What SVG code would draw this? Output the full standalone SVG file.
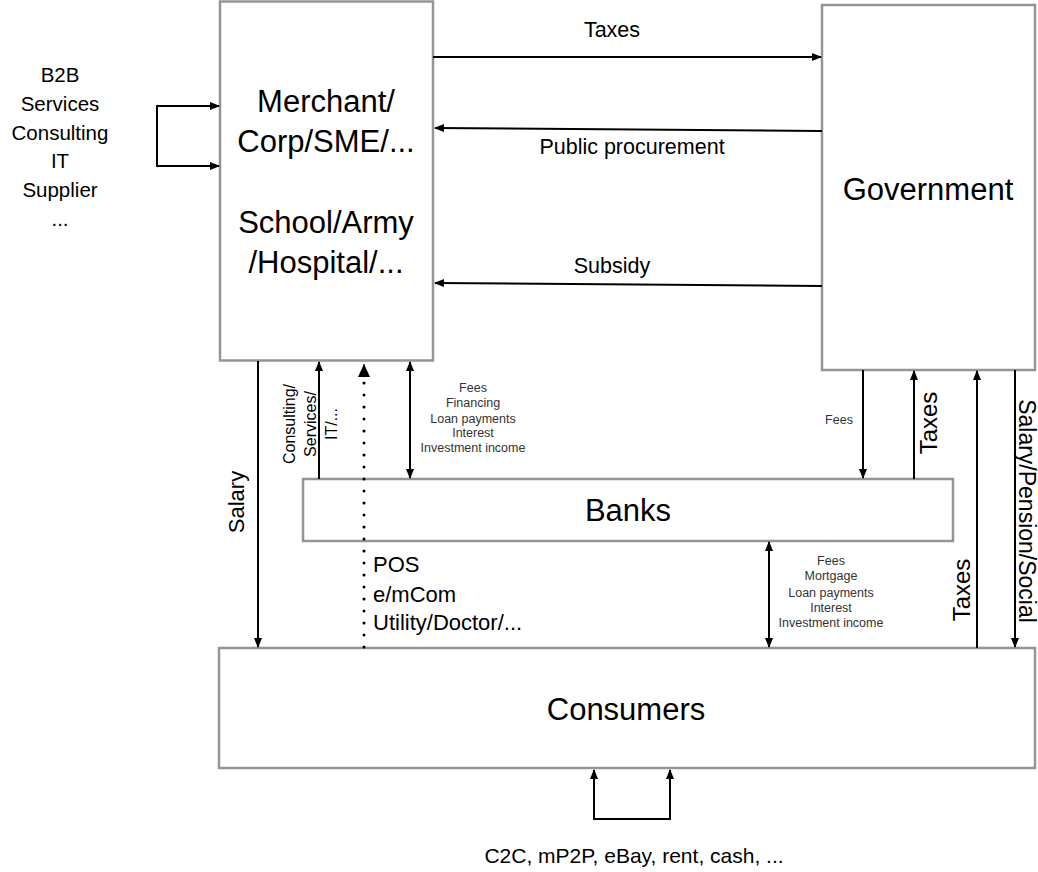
<svg xmlns="http://www.w3.org/2000/svg" width="1038" height="872" viewBox="0 0 1038 872">
  <style>
    text { font-family: "Liberation Sans", Arial, sans-serif; fill: #000; }
    .box { fill: #fff; stroke: #959595; stroke-width: 2.5; }
    .big { font-size: 31px; text-anchor: middle; }
    .mid { font-size: 21.5px; text-anchor: middle; }
    .side { font-size: 20.5px; text-anchor: middle; }
    .small { font-size: 12.5px; text-anchor: middle; fill: #333; }
    .rot { font-size: 24px; text-anchor: middle; }
    .con { fill: none; stroke: #000; stroke-width: 2; }
    .dot { fill: none; stroke: #000; stroke-width: 3; stroke-linecap: round; stroke-dasharray: 0 12; }
  </style>
  <defs>
    <marker id="ah" markerUnits="userSpaceOnUse" markerWidth="10" markerHeight="8" refX="9" refY="4" orient="auto-start-reverse">
      <path d="M0,0 L10,4 L0,8 z" fill="#000"/>
    </marker>
    <marker id="ahBig" markerUnits="userSpaceOnUse" markerWidth="14" markerHeight="12" refX="13" refY="6" orient="auto">
      <path d="M0,0 L13,6 L0,12 z" fill="#000"/>
    </marker>
  </defs>

  <rect width="1038" height="872" fill="#fff"/>

  <g id="merchant">
    <rect class="box" x="220" y="1.5" width="213" height="359"/>
    <text class="big" x="326" y="112">Merchant/</text>
    <text class="big" x="326" y="152">Corp/SME/...</text>
    <text class="big" x="326" y="233">School/Army</text>
    <text class="big" x="326" y="273">/Hospital/...</text>
  </g>

  <g id="government">
    <rect class="box" x="822" y="5" width="213" height="365"/>
    <text class="big" x="928" y="200">Government</text>
  </g>

  <g id="banks">
    <rect class="box" x="303" y="479" width="650" height="62"/>
    <text class="big" x="628" y="521">Banks</text>
  </g>

  <g id="consumers">
    <rect class="box" x="219" y="648" width="816" height="120"/>
    <text class="big" x="626" y="720">Consumers</text>
  </g>

  <g id="b2b-label">
    <text class="side" x="60" y="82">B2B</text>
    <text class="side" x="60" y="111">Services</text>
    <text class="side" x="60" y="140">Consulting</text>
    <text class="side" x="60" y="168">IT</text>
    <text class="side" x="60" y="197">Supplier</text>
    <text class="side" x="60" y="226">...</text>
  </g>

  <g id="connectors">
    <line class="con" x1="433" y1="57" x2="821" y2="57" marker-end="url(#ah)"/>
    <line class="con" x1="822" y1="131" x2="435" y2="128" marker-end="url(#ah)"/>
    <line class="con" x1="822" y1="286" x2="435" y2="283" marker-end="url(#ah)"/>
    <path class="con" d="M219,106 H157 V166 H219" marker-start="url(#ah)" marker-end="url(#ah)"/>
    <line class="con" x1="258" y1="361" x2="258" y2="647" marker-end="url(#ah)"/>
    <line class="con" x1="319" y1="479" x2="319" y2="362" marker-end="url(#ah)"/>
    <line class="dot" x1="364" y1="647" x2="364" y2="382"/>
    <line x1="364" y1="368" x2="364" y2="364" stroke="#000" stroke-width="1" marker-end="url(#ahBig)"/>
    <line class="con" x1="410" y1="362" x2="410" y2="478" marker-start="url(#ah)" marker-end="url(#ah)"/>
    <line class="con" x1="863" y1="370" x2="863" y2="478" marker-end="url(#ah)"/>
    <line class="con" x1="914" y1="479" x2="914" y2="371" marker-end="url(#ah)"/>
    <line class="con" x1="977" y1="648" x2="977" y2="371" marker-end="url(#ah)"/>
    <line class="con" x1="1015" y1="370" x2="1015" y2="647" marker-end="url(#ah)"/>
    <line class="con" x1="769" y1="542" x2="769" y2="647" marker-start="url(#ah)" marker-end="url(#ah)"/>
    <path class="con" d="M594,770 V819 H670 V770" marker-start="url(#ah)" marker-end="url(#ah)"/>
  </g>

  <g id="labels">
    <text class="mid" x="612" y="37">Taxes</text>
    <text class="mid" x="632" y="154">Public procurement</text>
    <text class="mid" x="612" y="273">Subsidy</text>
    <text class="rot" style="font-size:22px" transform="translate(244,502) rotate(-90)">Salary</text>
    <text class="rot" style="font-size:16px" transform="translate(295,424) rotate(-90)">Consulting/</text>
    <text class="rot" style="font-size:16px" transform="translate(316,424) rotate(-90)">Services/</text>
    <text class="rot" style="font-size:16px" transform="translate(337,424) rotate(-90)">IT/...</text>
    <text style="font-size:22px" x="373" y="572">POS</text>
    <text style="font-size:22px" x="373" y="602">e/mCom</text>
    <text style="font-size:22px" x="373" y="630">Utility/Doctor/...</text>
    <text class="small" x="473" y="392">Fees</text>
    <text class="small" x="473" y="407">Financing</text>
    <text class="small" x="473" y="423">Loan payments</text>
    <text class="small" x="473" y="437">Interest</text>
    <text class="small" x="473" y="452">Investment income</text>
    <text class="small" x="839" y="424">Fees</text>
    <text class="rot" transform="translate(937,423) rotate(-90)">Taxes</text>
    <text class="rot" transform="translate(970,590) rotate(-90)">Taxes</text>
    <text class="rot" style="font-size:23px" transform="translate(1019,511) rotate(90)">Salary/Pension/Social</text>
    <text class="small" x="831" y="565">Fees</text>
    <text class="small" x="831" y="580">Mortgage</text>
    <text class="small" x="831" y="597">Loan payments</text>
    <text class="small" x="831" y="612">Interest</text>
    <text class="small" x="831" y="627">Investment income</text>
    <text class="mid" style="font-size:21px" x="634" y="863">C2C, mP2P, eBay, rent, cash, ...</text>
  </g>
</svg>
